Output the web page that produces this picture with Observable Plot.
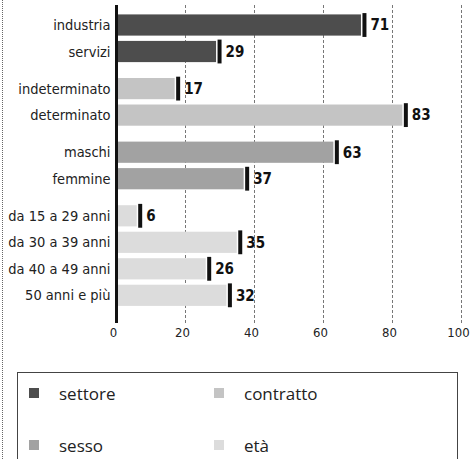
<!DOCTYPE html>
<html><head><meta charset="utf-8">
<script src="https://cdn.jsdelivr.net/npm/d3@7"></script>
<script src="https://cdn.jsdelivr.net/npm/@observablehq/plot@0.6"></script>
<style>
body{margin:0;background:#fff;width:473px;height:459px;overflow:hidden;position:relative;font-family:'Open Sans',sans-serif;}
#frame{position:absolute;left:2px;top:0;height:459px;border-left:1px dotted #666;}
#chart{position:absolute;left:0;top:0;}
#legend{position:absolute;left:17px;top:372px;width:441px;height:100px;border:1.5px solid #444;border-bottom:none;box-sizing:border-box;}
.item{position:absolute;height:24px;display:flex;align-items:center;font-size:17px;color:#222;}
.sw{width:10px;height:10px;margin-right:20px;}
</style></head>
<body>
<div id="frame"></div>
<div id="chart"></div>
<div id="legend"></div>
<script>
const categories = ["industria","servizi","indeterminato","determinato","maschi","femmine","da 15 a 29 anni","da 30 a 39 anni","da 40 a 49 anni","50 anni e più"];
const values = [71, 29, 17, 83, 63, 37, 6, 35, 26, 32];
const groups = ["settore","settore","contratto","contratto","sesso","sesso","età","età","età","età"];
const groupNames = ["settore","contratto","sesso","età"];
const groupColors = ["#4d4d4d","#c4c4c4","#a2a2a2","#dcdcdc"];
const xTicks = [0, 20, 40, 60, 80, 100];

const rows = categories.map((c, i) => ({
  label: c, value: values[i], group: groups[i],
  pos: i + 0.4 * groupNames.indexOf(groups[i])
}));

const plot = Plot.plot({
  width: 473, height: 345,
  marginTop: 5, marginBottom: 22, marginLeft: 116, marginRight: 12,
  x: {domain: [0, 100], label: null},
  y: {domain: [-0.755, 11.245], reverse: true, axis: null},
  color: {domain: groupNames, range: groupColors},
  style: {fontFamily: "'DejaVu Sans Condensed','DejaVu Sans',sans-serif", fontStretch: "condensed", fontSize: "13px", color: "#222", background: "transparent"},
  marks: [
    Plot.ruleX(xTicks.filter(d => d > 0), {stroke: "#777", strokeDasharray: "3,2", strokeWidth: 1}),
    Plot.rect(rows, {x1: d => 0, x2: "value", y1: d => d.pos - 0.4, y2: d => d.pos + 0.4, fill: "group"}),
    Plot.ruleX([0], {stroke: "#111", strokeWidth: 3}),
    Plot.ruleX(rows, {x: "value", y1: d => d.pos - 0.45, y2: d => d.pos + 0.45, stroke: "#111", strokeWidth: 4, dx: 3}),
    Plot.text(rows, {x: "value", y: "pos", text: d => String(d.value), dx: 9, textAnchor: "start", fontWeight: "bold", fontSize: 15, fill: "#111"}),
    Plot.text(rows, {x: d => 0, y: "pos", text: "label", textAnchor: "end", dx: -6, fontSize: 14.5, fill: "#222"}),
    Plot.axisX({ticks: xTicks, tickSize: 0, tickPadding: 4, dx: -3, fontSize: 13, label: null})
  ]
});
document.getElementById("chart").appendChild(plot);

const legend = document.getElementById("legend");
groupNames.forEach((g, i) => {
  const col = i % 2, row = Math.floor(i / 2);
  const item = document.createElement("div");
  item.className = "item";
  item.style.left = (11 + col * 185) + "px";
  item.style.top = (8 + row * 52) + "px";
  const sw = document.createElement("span");
  sw.className = "sw";
  sw.style.background = groupColors[i];
  const tx = document.createElement("span");
  tx.textContent = g;
  item.appendChild(sw); item.appendChild(tx);
  legend.appendChild(item);
});
</script>
</body></html>
